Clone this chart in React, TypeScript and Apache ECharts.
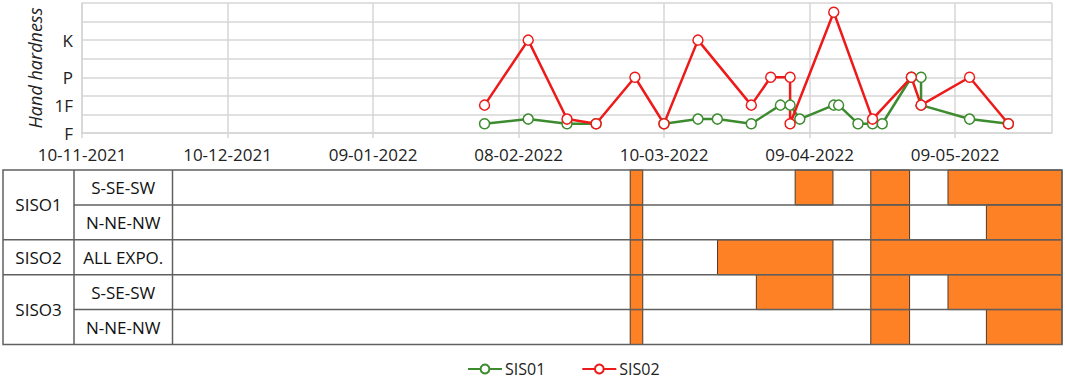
import React, { useEffect, useRef } from 'react';
import * as echarts from 'echarts';

// ---------- data ----------
const START_DATE = '2021-11-10';
const AXIS_MAX_DAY = 200;
const TABLE_MAX_DAY = 202;
const TICK_DAYS = 30;

const hardnessTickValues = [0, 1.5, 3, 5];
const hardnessTickLabels = ['F', '1F', 'P', 'K'];

const sis01Dates = [
  '2022-02-01', '2022-02-10', '2022-02-18', '2022-02-24', '2022-03-04', '2022-03-10',
  '2022-03-17', '2022-03-21', '2022-03-28', '2022-04-03', '2022-04-05', '2022-04-07',
  '2022-04-14', '2022-04-15', '2022-04-19', '2022-04-22', '2022-04-24', '2022-04-30',
  '2022-05-02', '2022-05-02', '2022-05-12', '2022-05-20',
];
const sis01Values = [
  0.5, 0.75, 0.5, 0.5, null, 0.5,
  0.75, 0.75, 0.5, 1.5, 1.5, 0.75,
  1.5, 1.5, 0.5, 0.5, 0.5, 3,
  3, 1.5, 0.75, 0.5,
];

const sis02Dates = [
  '2022-02-01', '2022-02-10', '2022-02-18', '2022-02-24', '2022-03-04', '2022-03-10',
  '2022-03-17', '2022-03-28', '2022-04-01', '2022-04-05', '2022-04-05', '2022-04-14',
  '2022-04-22', '2022-04-30', '2022-05-02', '2022-05-12', '2022-05-20',
];
const sis02Values = [
  1.5, 5, 0.75, 0.5, 3, 0.5,
  5, 1.5, 3, 3, 0.5, 6.5,
  0.75, 3, 1.5, 3, 0.5,
];

const groupNames = ['SISO1', 'SISO2', 'SISO3'];
const groupRowSpans = [2, 1, 2];
const exposureNames = ['S-SE-SW', 'N-NE-NW', 'ALL EXPO.', 'S-SE-SW', 'N-NE-NW'];

const cellRows = [
  0, 0, 0, 0,
  1, 1, 1,
  2, 2, 2,
  3, 3, 3, 3,
  4, 4, 4,
];
const cellStarts = [
  '2022-03-03', '2022-04-06', '2022-04-21T14:00Z', '2022-05-07T12:00Z',
  '2022-03-03', '2022-04-21T14:00Z', '2022-05-15T10:00Z',
  '2022-03-03', '2022-03-21', '2022-04-21T14:00Z',
  '2022-03-03', '2022-03-29', '2022-04-21T14:00Z', '2022-05-07T12:00Z',
  '2022-03-03', '2022-04-21T14:00Z', '2022-05-15T10:00Z',
];
const cellEnds = [
  '2022-03-05T14:00Z', '2022-04-13T19:00Z', '2022-04-29T14:00Z', '2022-05-31',
  '2022-03-05T14:00Z', '2022-04-29T14:00Z', '2022-05-31',
  '2022-03-05T14:00Z', '2022-04-13T19:00Z', '2022-05-31',
  '2022-03-05T14:00Z', '2022-04-13T19:00Z', '2022-04-29T14:00Z', '2022-05-31',
  '2022-03-05T14:00Z', '2022-04-29T14:00Z', '2022-05-31',
];

// ---------- helpers ----------
const DAY_MS = 86400000;
const BASE = Date.parse(START_DATE);
const toDay = (s: string) => (Date.parse(s) - BASE) / DAY_MS;
const pad = (n: number) => (n < 10 ? '0' + n : '' + n);
const fmtDay = (d: number) => {
  const dt = new Date(BASE + Math.round(d) * DAY_MS);
  return pad(dt.getUTCDate()) + '-' + pad(dt.getUTCMonth() + 1) + '-' + dt.getUTCFullYear();
};

// ---------- layout ----------
const FONT = '"Open Sans", "Liberation Sans", sans-serif';
const GREEN = '#3d8b2f';
const RED = '#ee1a1a';
const ORANGE = '#ff8126';
const GRID_GRAY = '#d6d6d6';
const TABLE_LINE = '#606060';

const TABLE_TOP = 170;
const ROW_H = 34.9;
const TABLE_LEFT = 3;
const COL1 = 74;
const COL2 = 172.5;
const TABLE_RIGHT = 1062;

export default function App() {
  const ref = useRef<HTMLDivElement>(null);

  useEffect(() => {
    if (!ref.current) return;
    const chart = echarts.init(ref.current, null, { renderer: 'svg' });

    const sis01Data = sis01Dates.map((d, i) => [toDay(d), sis01Values[i] === null ? '-' : sis01Values[i]]);
    const sis02Data = sis02Dates.map((d, i) => [toDay(d), sis02Values[i]]);
    const cellData = cellRows.map((r, i) => [r, toDay(cellStarts[i]), toDay(cellEnds[i])]);

    const nRows = exposureNames.length;
    const tableBottom = TABLE_TOP + ROW_H * nRows;
    const lineStyle = { stroke: TABLE_LINE, lineWidth: 1.5 };
    const graphics: any[] = [];
    graphics.push({
      type: 'rect', z: 100,
      shape: { x: TABLE_LEFT, y: TABLE_TOP, width: TABLE_RIGHT - TABLE_LEFT, height: ROW_H * nRows },
      style: { fill: 'none', ...lineStyle },
    });
    graphics.push({
      type: 'rect', z: 99,
      shape: { x: TABLE_LEFT, y: TABLE_TOP, width: COL2 - TABLE_LEFT, height: ROW_H * nRows },
      style: { fill: '#fff' },
    });
    graphics.push({ type: 'line', z: 100, shape: { x1: COL1, y1: TABLE_TOP, x2: COL1, y2: tableBottom }, style: lineStyle });
    graphics.push({ type: 'line', z: 100, shape: { x1: COL2, y1: TABLE_TOP, x2: COL2, y2: tableBottom }, style: lineStyle });
    let r0 = 0;
    groupNames.forEach((g, gi) => {
      const span = groupRowSpans[gi];
      graphics.push({
        type: 'text', z: 101,
        x: (TABLE_LEFT + COL1) / 2, y: TABLE_TOP + ROW_H * (r0 + span / 2),
        style: { text: g, align: 'center', verticalAlign: 'middle', font: '17px ' + FONT, fill: '#111' },
      });
      for (let k = 1; k <= span; k++) {
        const rowIdx = r0 + k;
        if (rowIdx >= nRows) continue;
        const y = TABLE_TOP + ROW_H * rowIdx;
        const startX = k === span ? TABLE_LEFT : COL1;
        graphics.push({ type: 'line', z: 100, shape: { x1: startX, y1: y, x2: TABLE_RIGHT, y2: y }, style: lineStyle });
      }
      r0 += span;
    });
    exposureNames.forEach((e, i) => {
      graphics.push({
        type: 'text', z: 101,
        x: (COL1 + COL2) / 2, y: TABLE_TOP + ROW_H * (i + 0.5),
        style: { text: e, align: 'center', verticalAlign: 'middle', font: '17px ' + FONT, fill: '#111' },
      });
    });

    const option: any = {
      animation: false,
      backgroundColor: '#fff',
      textStyle: { fontFamily: FONT },
      grid: [
        { left: 82, top: 3, width: 970, height: 130 },
        { left: 82, top: TABLE_TOP, width: 980, height: ROW_H * nRows },
      ],
      legend: {
        data: ['SIS01', 'SIS02'],
        left: 462, top: 356,
        itemWidth: 34, itemHeight: 11, itemGap: 36,
        textStyle: { fontSize: 16, color: '#222', fontFamily: FONT, padding: [0, 0, 0, -2] },
      },
      xAxis: [
        {
          type: 'value', gridIndex: 0, min: 0, max: AXIS_MAX_DAY, interval: TICK_DAYS,
          axisLine: { show: true, lineStyle: { color: GRID_GRAY, width: 1.5 } },
          axisTick: { show: true, length: 5, lineStyle: { color: GRID_GRAY, width: 1.5 } },
          splitLine: { show: true, lineStyle: { color: GRID_GRAY, width: 1.5 } },
          axisLabel: {
            formatter: (v: number) => fmtDay(v), fontSize: 17, color: '#222', margin: 13,
            showMaxLabel: false, fontFamily: FONT,
          },
        },
        { type: 'value', gridIndex: 1, min: 0, max: TABLE_MAX_DAY, show: false },
      ],
      yAxis: [
        {
          type: 'value', gridIndex: 0, min: 0, max: 7, interval: 1,
          axisLine: { show: true, lineStyle: { color: GRID_GRAY, width: 1.5 } },
          axisTick: { show: false },
          axisLabel: { show: false },
          splitLine: { show: true, lineStyle: { color: GRID_GRAY, width: 1.5 } },
        },
        {
          type: 'value', gridIndex: 0, min: 0, max: 7, interval: 0.5, position: 'left',
          axisLine: { show: false }, axisTick: { show: false }, splitLine: { show: false },
          axisLabel: {
            fontSize: 17, color: '#222', margin: 9, fontFamily: FONT,
            formatter: (v: number) => {
              const i = hardnessTickValues.indexOf(v);
              return i >= 0 ? hardnessTickLabels[i] : '';
            },
          },
          name: 'Hand hardness', nameLocation: 'middle', nameRotate: 90, nameGap: 35,
          nameTextStyle: { fontSize: 18, fontStyle: 'italic', color: '#222', fontFamily: FONT },
        },
        { type: 'value', gridIndex: 1, min: 0, max: nRows, inverse: true, show: false },
      ],
      graphic: graphics,
      series: [
        {
          name: 'SIS01', type: 'line', xAxisIndex: 0, yAxisIndex: 0, data: sis01Data,
          connectNulls: false, symbol: 'circle', symbolSize: 10,
          lineStyle: { color: GREEN, width: 2.5 },
          itemStyle: { color: '#fff', borderColor: GREEN, borderWidth: 1.5 },
        },
        {
          name: 'SIS02', type: 'line', xAxisIndex: 0, yAxisIndex: 0, data: sis02Data,
          symbol: 'circle', symbolSize: 10,
          lineStyle: { color: RED, width: 2.5 },
          itemStyle: { color: '#fff', borderColor: RED, borderWidth: 1.5 },
        },
        {
          type: 'custom', xAxisIndex: 1, yAxisIndex: 2, data: cellData,
          encode: { x: [1, 2], y: 0 },
          renderItem: (params: any, api: any) => {
            const row = api.value(0);
            const p0 = api.coord([api.value(1), row]);
            const p1 = api.coord([api.value(2), row + 1]);
            return {
              type: 'rect',
              shape: { x: p0[0], y: p0[1], width: p1[0] - p0[0], height: p1[1] - p0[1] },
              style: { fill: ORANGE, stroke: '#4a3a2a', lineWidth: 1 },
            };
          },
        },
      ],
    };

    chart.setOption(option);
    return () => chart.dispose();
  }, []);

  return (
    <div
      ref={ref}
      style={{ position: 'fixed', left: 0, top: 0, width: 1065, height: 379, background: '#fff' }}
    />
  );
}
